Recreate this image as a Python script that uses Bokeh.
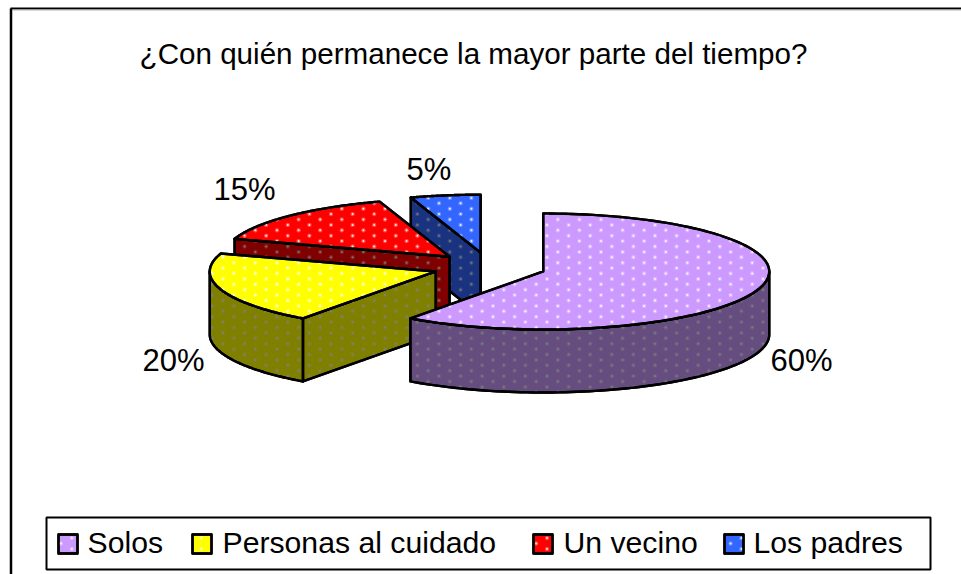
import numpy as np
from bokeh.core.properties import value
from bokeh.embed import file_html
from bokeh.models import Range1d
from bokeh.plotting import figure
from bokeh.resources import INLINE

TITLE = "¿Con quién permanece la mayor parte del tiempo?"
categories = ["Solos", "Personas al cuidado", "Un vecino", "Los padres"]
shares = [60, 20, 15, 5]
top_colors = ["#CC99FF", "#FFFF00", "#FF0000", "#3366FF"]
wall_colors = ["#664D80", "#808000", "#800000", "#1A3380"]

# projected pie geometry, in window pixels
CX, CY, RX, RY, DEPTH, EXPLODE = 489.0, 266.5, 226.0, 58.0, 63.0, 0.25
FONT = value("Liberation Sans")
label_pos = [(770, 360), (142, 360), (213, 189), (406, 169)]
key_x = [58, 192, 533, 724]
legend_text_x = [87, 222, 563, 753]
LEGEND_BOX = (46, 930, 517, 569)

p = figure(width=961, height=574, output_backend="svg", toolbar_location=None,
           x_range=Range1d(0, 961), y_range=Range1d(574, 0), min_border=0,
           outline_line_color=None, background_fill_color="white", border_fill_color="white")
p.axis.visible = False
p.grid.visible = False


def inside(px, py, xs, ys):
    res = np.zeros(px.shape, dtype=bool)
    n = len(xs)
    j = n - 1
    for i in range(n):
        cond = (ys[i] > py) != (ys[j] > py)
        with np.errstate(divide="ignore", invalid="ignore"):
            xint = (xs[j] - xs[i]) * (py - ys[i]) / (ys[j] - ys[i]) + xs[i]
        res ^= cond & (px < xint)
        j = i
    return res


# staggered dot lattice of the fill pattern
PITCH, ROW = 10.8, 5.4
ii, jj = np.meshgrid(np.arange(-55, 40), np.arange(-45, 70))
keep = (ii + jj) % 2 == 0
LX = 557.3 + PITCH * ii[keep]
LY = 219.0 + ROW * jj[keep]


def face(xs, ys, fill, dot, line_width=2.4):
    xs, ys = np.asarray(xs, float), np.asarray(ys, float)
    p.patch(xs, ys, fill_color=fill, line_color="black", line_width=line_width, line_join="round")
    m = inside(LX, LY, xs, ys)
    if m.any():
        p.scatter(LX[m], LY[m], size=4.4, marker="circle", fill_color=dot, fill_alpha=0.28, line_color=None)
        p.scatter(LX[m], LY[m], size=2.0, marker="circle", fill_color=dot, fill_alpha=0.85, line_color=None)
        p.patch(xs, ys, fill_color=None, line_color="black", line_width=line_width, line_join="round")


def pt(cx, cy, deg):
    t = np.radians(deg)
    return cx + RX * np.sin(t), cy - RY * np.cos(t)


# slices: solos first in clockwise order, painted back to front
total = sum(shares)
starts = np.cumsum([0] + shares[:-1]) * 360.0 / total
ends = np.cumsum(shares) * 360.0 / total
for k in [3, 2, 1, 0]:
    a, b = starts[k], ends[k]
    mid = np.radians((a + b) / 2)
    ax = CX + EXPLODE * RX * np.sin(mid)
    ay = CY - EXPLODE * RY * np.cos(mid)
    if np.sin(np.radians(a)) < -1e-6:
        sx, sy = pt(ax, ay, a)
        face([ax, sx, sx, ax], [ay, sy, sy + DEPTH, ay + DEPTH], wall_colors[k], "#808080")
    ra, rb = max(a, 90.0), min(b, 270.0)
    if rb > ra:
        d = np.linspace(ra, rb, 80)
        rx, ry = pt(ax, ay, d)
        face(np.r_[rx, rx[::-1]], np.r_[ry, ry[::-1] + DEPTH], wall_colors[k], "#808080")
    d = np.linspace(a, b, 120)
    tx, ty = pt(ax, ay, d)
    face(np.r_[ax, tx], np.r_[ay, ty], top_colors[k], "white")

# percentage labels
for s, (x, y) in zip(shares, label_pos):
    p.text([x], [y], text=[f"{s}%"], text_font=FONT, text_font_size="31px", text_color="black",
           text_baseline="middle", text_align="left")

# title
p.text([473], [53], text=[TITLE], text_font=FONT, text_font_size="29.6px", text_color="black",
       text_baseline="middle", text_align="center")

# chart frame (open at right and bottom, as cut in the reference)
p.line([10.5, 10.5], [8, 574], line_color="black", line_width=2.5)
p.line([10, 961], [8, 8], line_color="black", line_width=2)
p.line([12, 961], [9.5, 9.5], line_color="#B0B0B0", line_width=1)

# legend
L, R, T, B = LEGEND_BOX
p.patch([L, R, R, L], [T, T, B, B], fill_color="white", line_color="black", line_width=2)
for name, col, kx, tx0 in zip(categories, top_colors, key_x, legend_text_x):
    face([kx, kx + 19, kx + 19, kx], [534, 534, 553, 553], col, "white")
    p.text([tx0], [542], text=[name], text_font=FONT, text_font_size="30.2px", text_color="black",
           text_baseline="middle", text_align="left")

open("out.html", "w").write(file_html(p, INLINE))
